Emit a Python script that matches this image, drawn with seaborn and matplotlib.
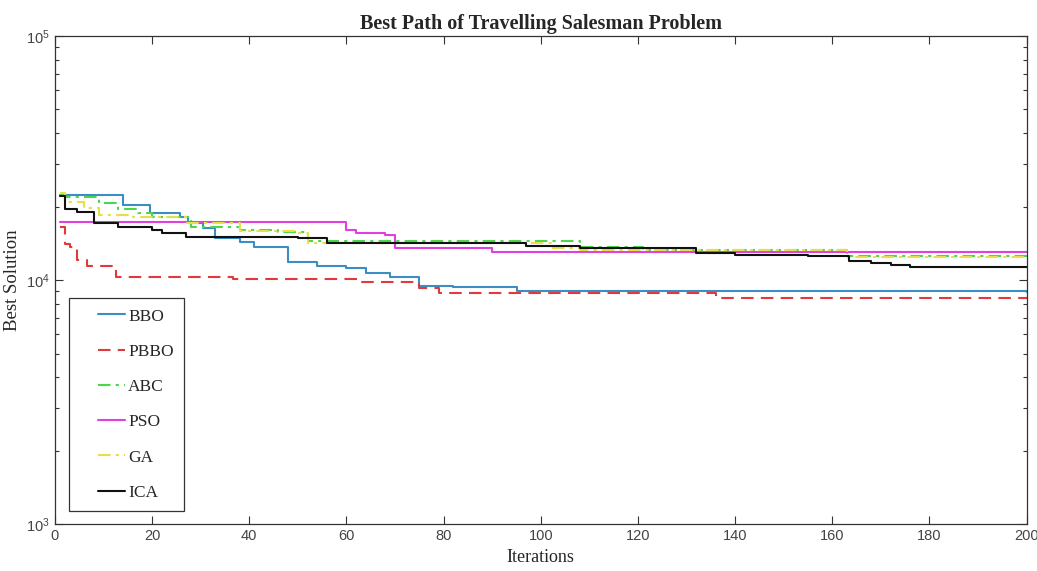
import numpy as np
import pandas as pd
import matplotlib
matplotlib.use("Agg")
import matplotlib.pyplot as plt
import seaborn as sns
from matplotlib.legend_handler import HandlerLine2D
from matplotlib.ticker import LogLocator, NullFormatter

# ---- data (breakpoints of best-so-far curves) ----
bbo_it = [1, 14, 19.5, 25.7, 27.4, 30.5, 33, 38, 41, 48, 54, 60, 64, 69, 75, 82, 95, 200]
bbo_val = [22300, 20300, 18800, 18100, 17100, 16300, 14900, 14300, 13700, 11900, 11400, 11200,
           10700, 10300, 9450, 9350, 9000, 8950]

pbbo_it = [1, 2, 3, 4.5, 6.5, 12.5, 36.6, 63, 75, 79, 136, 200]
pbbo_val = [16500, 14000, 13700, 12100, 11400, 10300, 10100, 9800, 9270, 8850, 8440, 8440]

abc_it = [1, 2, 9, 13, 17, 20, 28, 38, 46, 52, 108, 121, 163, 200]
abc_val = [22300, 21900, 20700, 19500, 18800, 18100, 16500, 16000, 15700, 14500, 13700, 13300,
           12500, 12500]

pso_it = [1, 60, 62, 68, 70, 90, 200]
pso_val = [17300, 16000, 15600, 15300, 13500, 13000, 13000]

ga_it = [1, 2, 6, 9, 16, 27, 38, 50, 52, 102, 108, 163, 200]
ga_val = [22700, 20900, 19700, 18500, 18100, 17100, 15900, 15600, 14200, 13500, 13300, 12400, 12400]

ica_it = [1, 2, 4.5, 8, 13, 20, 22, 27, 50, 56, 97, 108, 132, 140, 155, 163.5, 168, 172, 176, 200]
ica_val = [22000, 19500, 19000, 17100, 16500, 16000, 15600, 15000, 14900, 14200, 13800, 13500,
           12900, 12700, 12500, 12000, 11700, 11500, 11300, 11300]

names = ["BBO", "PBBO", "ABC", "PSO", "GA", "ICA"]
iters = [bbo_it, pbbo_it, abc_it, pso_it, ga_it, ica_it]
vals = [bbo_val, pbbo_val, abc_val, pso_val, ga_val, ica_val]

colors = ["#3C8DC4", "#E0393E", "#4CD64C", "#E040E0", "#E6DE4A", "#111111"]
styles = ["-", (0, (6, 3.5)), (0, (6, 2.5, 1.5, 2.5)), "-", (0, (6, 2.5, 1.5, 2.5)), "-"]

sns.set_style("white")
plt.rcParams["font.family"] = ["Liberation Serif", "DejaVu Serif"]

fig = plt.figure(figsize=(10.37, 5.71), dpi=100)
ax = fig.add_axes([0.053, 0.082, 0.937, 0.855])

for n, it, v, c, ls in zip(names, iters, vals, colors, styles):
    df = pd.DataFrame({"Iterations": it, "Best Solution": v})
    sns.lineplot(data=df, x="Iterations", y="Best Solution", ax=ax, color=c,
                 linestyle=ls, linewidth=1.5, drawstyle="steps-post", label=n,
                 estimator=None, sort=False)

ax.set_yscale("log")
ax.set_xlim(0, 200)
ax.set_ylim(1e3, 1e5)
ax.set_xticks(np.arange(0, 201, 20))
ax.yaxis.set_major_locator(LogLocator(base=10, numticks=5))
ax.yaxis.set_minor_locator(LogLocator(base=10, subs=np.arange(2, 10), numticks=20))
ax.yaxis.set_minor_formatter(NullFormatter())

ax.tick_params(axis="both", which="both", direction="in", top=True, right=True,
               bottom=True, left=True,
               labelsize=10.5, labelcolor="#444444", colors="#333333")
ax.tick_params(axis="both", which="major", length=6, width=0.8)
ax.tick_params(axis="y", which="minor", length=3, width=0.8)
for lab in ax.get_xticklabels() + ax.get_yticklabels():
    lab.set_family(["Liberation Sans", "DejaVu Sans"])
    lab.set_color("#444444")

for s in ax.spines.values():
    s.set_visible(True)
    s.set_color("#333333")
    s.set_linewidth(0.9)

ax.set_xlabel("Iterations", fontsize=13, labelpad=4)
ax.set_ylabel("Best Solution", fontsize=13.5, labelpad=4)
ax.set_title("Best Path of Travelling Salesman Problem", fontsize=14.5, fontweight="bold", pad=5)

hmap = {h: HandlerLine2D(xpad=1.05) for h in ax.get_lines()}
leg = ax.legend(loc="lower left", bbox_to_anchor=(0.0144, 0.0266), fontsize=12.5,
                handlelength=2.6, handletextpad=0.2, labelspacing=1.1, borderpad=0.6,
                borderaxespad=0.0,
                frameon=True, fancybox=False, framealpha=1, edgecolor="#333333",
                handler_map=hmap)
leg.get_frame().set_linewidth(0.9)

fig.savefig("out.png", dpi=100)
